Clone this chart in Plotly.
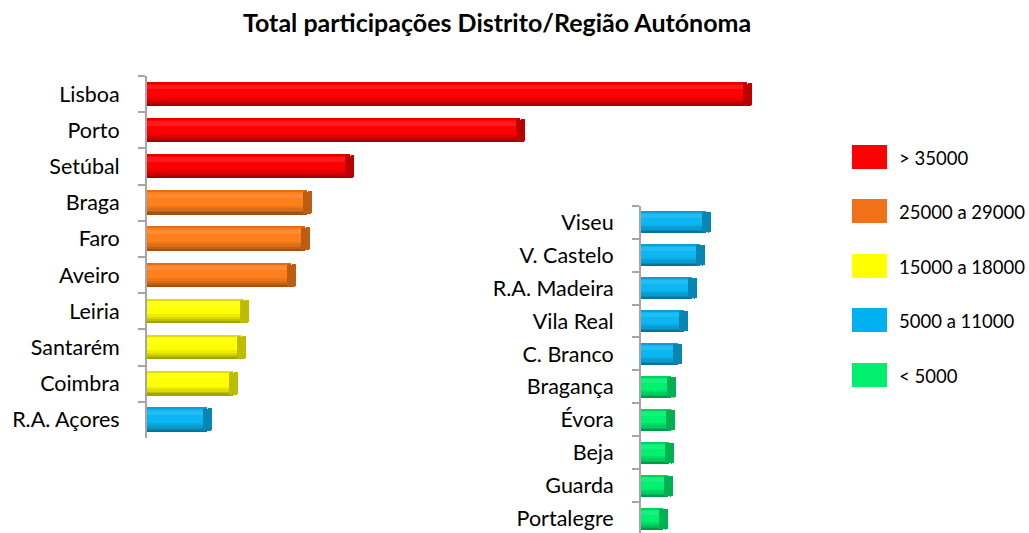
import plotly.graph_objects as go

# ---- data ----
left_names = ["Lisboa", "Porto", "Setúbal", "Braga", "Faro", "Aveiro",
              "Leiria", "Santarém", "Coimbra", "R.A. Açores"]
left_values = [105000, 65300, 35500, 28000, 27700, 25200, 17000, 16500, 15100, 10500]

right_names = ["Viseu", "V. Castelo", "R.A. Madeira", "Vila Real", "C. Branco",
               "Bragança", "Évora", "Beja", "Guarda", "Portalegre"]
right_values = [9850, 8940, 7730, 6500, 5600, 4550, 4500, 4250, 4100, 3350]

legend_labels = ["> 35000", "25000 a 29000", "15000 a 18000", "5000 a 11000", "< 5000"]
legend_colors = ["#FF0000", "#F07117", "#FFFF00", "#00B0F0", "#00F06E"]
bar_colors = ["#FF0000", "#FF7F1C", "#FFFF00", "#0CB6F2", "#00F070"]
bin_lower = [35000, 25000, 15000, 5000, 0]

title_text = "Total participações Distrito/Região Autónoma"

W, H = 1029, 533
FONT = "Lato"


def bin_of(v):
    for i, lo in enumerate(bin_lower):
        if v > lo:
            return i
    return len(bin_lower) - 1


def shade(hexcol, f):
    h = hexcol.lstrip("#")
    r, g, b = (int(h[i:i + 2], 16) for i in (0, 2, 4))
    if f < 1:
        r, g, b = int(r * f), int(g * f), int(b * f)
    else:
        t = f - 1
        r, g, b = int(r + (255 - r) * t), int(g + (255 - g) * t), int(b + (255 - b) * t)
    return "#%02X%02X%02X" % (r, g, b)


fig = go.Figure()

# (offset, width, shade factor) layers approximating a cylinder gradient
LAYERS = [(-0.33, 0.66, 1.0),
          (-0.33, 0.03, 0.88),
          (-0.25, 0.12, 1.1),
          (0.08, 0.25, 0.93),
          (0.15, 0.18, 0.86),
          (0.22, 0.11, 0.76),
          (0.28, 0.05, 0.64)]


def add_cylinders(names, values, xa, ya, px_per_unit):
    base_cols = [bar_colors[bin_of(v)] for v in values]
    for k, (off, wid, f) in enumerate(LAYERS):
        fig.add_trace(go.Bar(y=names, x=values, orientation="h", xaxis=xa, yaxis=ya,
                             marker=dict(color=[shade(c, f) for c in base_cols], line=dict(width=0)),
                             width=wid, offset=off,
                             hoverinfo="x+y" if k == 0 else "skip", showlegend=False))
    # elliptical end face of the cylinder (two rounded halves around the value)
    half = 4.5 / px_per_unit
    cap_cols = [shade(c, 0.74) for c in base_cols]
    for sign in (-1, 1):
        fig.add_trace(go.Bar(y=names, x=[sign * half] * len(values), base=values,
                             orientation="h", xaxis=xa, yaxis=ya,
                             marker=dict(color=cap_cols, line=dict(width=0), cornerradius=4),
                             width=0.64, offset=-0.32, hoverinfo="skip", showlegend=False))


left_px_per_unit = 160 / 28000
right_px_per_unit = 0.0066
add_cylinders(left_names, left_values, "x", "y", left_px_per_unit)
add_cylinders(right_names, right_values, "x2", "y2", right_px_per_unit)

axis_gray = "#A6A6A6"

ycommon = dict(type="category", showgrid=False, zeroline=False, showline=True,
               linecolor=axis_gray, linewidth=2, ticks="outside", ticklen=7,
               tickcolor=axis_gray, tickwidth=2, tickson="boundaries",
               tickfont=dict(family=FONT, size=21.5, color="#000000"),
               ticklabelstandoff=21, automargin=False)
xcommon = dict(visible=False, showgrid=False, zeroline=False, automargin=False)

fig.update_layout(
    width=W, height=H,
    margin=dict(l=0, r=0, t=0, b=0, autoexpand=False),
    paper_bgcolor="white", plot_bgcolor="rgba(0,0,0,0)",
    barmode="overlay", bargap=0,
    showlegend=False,
    xaxis=dict(domain=[147 / W, 800 / W], range=[0, (800 - 147) / left_px_per_unit], **xcommon),
    yaxis=dict(domain=[1 - 438 / H, 1 - 76 / H], range=[9.5, -0.5], anchor="x",
               categoryorder="array", categoryarray=left_names, **ycommon),
    xaxis2=dict(domain=[641 / W, 841 / W], range=[0, 200 / right_px_per_unit],
                anchor="y2", **xcommon),
    yaxis2=dict(domain=[0, 1 - 205.6 / H], range=[9.43, -0.5], anchor="x2",
                categoryorder="array", categoryarray=right_names, **ycommon),
)

# title
fig.add_annotation(text="<b>" + title_text + "</b>", x=497 / W, y=1 - 22 / H,
                   xref="paper", yref="paper", showarrow=False,
                   xanchor="center", yanchor="middle",
                   font=dict(family=FONT, size=25, color="#000000"))

# custom legend
leg_y = [157, 211, 266, 320, 375]
for lab, col, cy in zip(legend_labels, legend_colors, leg_y):
    fig.add_shape(type="rect", xref="paper", yref="paper",
                  x0=852 / W, x1=887 / W, y0=1 - (cy + 12) / H, y1=1 - (cy - 12) / H,
                  fillcolor=col, line=dict(width=0))
    fig.add_annotation(text=lab, x=897 / W, y=1 - (cy + 1) / H, xref="paper", yref="paper",
                       showarrow=False, xanchor="left", yanchor="middle",
                       font=dict(family=FONT, size=18.5, color="#000000"))

fig.write_html("out.html", config={"displayModeBar": False},
               post_script="document.body.style.margin='0';document.body.style.overflow='hidden';")
